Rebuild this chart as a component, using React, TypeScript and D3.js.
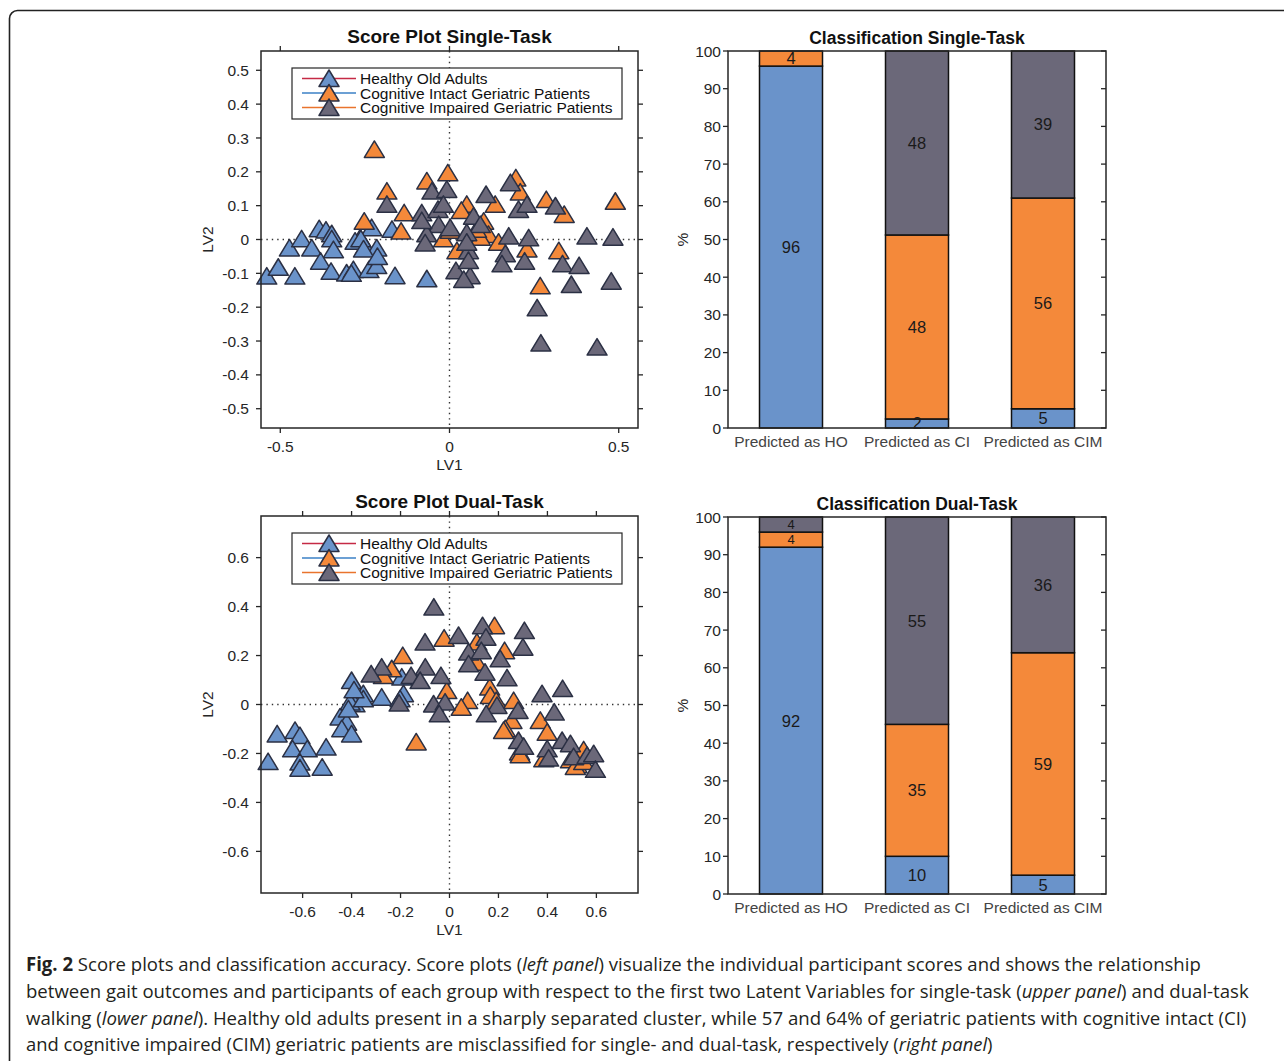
import React from "react";
import * as d3 from "d3";

type Pt = [number, number];
type Box = { x0: number; x1: number; y0: number; y1: number };

// groups, in drawing / legend order
const groupNames = [
  "Healthy Old Adults",
  "Cognitive Intact Geriatric Patients",
  "Cognitive Impaired Geriatric Patients",
];
const groupFill = ["#6a93ca", "#f4893a", "#6b6879"];
const legendLine = ["#c52a45", "#3b80c6", "#e9742d"];

// score plot, single-task (LV1, LV2)
const hoSingle: Pt[] = [
  [-0.54, -0.108], [-0.506, -0.082], [-0.457, -0.108], [-0.473, -0.025], [-0.437, 0.002],
  [-0.407, -0.025], [-0.385, 0.032], [-0.365, 0.028], [-0.348, 0.017], [-0.348, 0.002],
  [-0.343, -0.03], [-0.381, -0.064], [-0.35, -0.094], [-0.304, -0.099], [-0.284, -0.089],
  [-0.238, -0.089], [-0.264, 0.005], [-0.249, -0.02], [-0.23, 0.035], [-0.215, -0.025],
  [-0.215, -0.077], [-0.279, -0.005], [-0.262, 0.002], [-0.254, -0.028], [-0.17, 0.03],
  [-0.161, -0.107], [-0.067, -0.116], [-0.213, -0.05], [-0.29, -0.1],
];
const ciSingle: Pt[] = [
  [-0.222, 0.266], [-0.005, 0.197], [-0.067, 0.173], [0.196, 0.182], [0.209, 0.14],
  [-0.185, 0.143], [0.051, 0.104], [0.035, 0.086], [0.135, 0.104], [-0.134, 0.079],
  [0.286, 0.118], [0.339, 0.074], [0.49, 0.113], [-0.252, 0.054], [-0.143, 0.025],
  [0.101, 0.054], [0.115, 0.015], [-0.018, 0.002], [0.022, -0.033], [0.145, -0.008],
  [0.229, -0.028], [0.323, -0.033], [0.268, -0.137], [0.091, 0.007], [0.002, 0.027],
  [0.08, 0.03],
];
const cimSingle: Pt[] = [
  [0.18, 0.168], [-0.052, 0.143], [-0.008, 0.148], [0.108, 0.133], [-0.185, 0.104],
  [-0.082, 0.079], [-0.034, 0.089], [-0.018, 0.104], [0.204, 0.089], [0.229, 0.104],
  [0.313, 0.099], [0.071, 0.069], [-0.032, 0.044], [0.002, 0.035], [0.091, 0.044],
  [0.051, 0.02], [-0.067, 0.017], [-0.072, -0.01], [0.175, 0.01], [0.234, 0.005],
  [0.406, 0.01], [0.483, 0.007], [0.056, -0.033], [0.165, -0.042], [0.155, -0.072],
  [0.222, -0.064], [0.334, -0.072], [0.383, -0.077], [0.019, -0.092], [0.061, -0.107],
  [0.042, -0.118], [0.36, -0.133], [0.478, -0.123], [0.259, -0.202], [0.27, -0.306],
  [0.436, -0.318], [-0.082, 0.056], [0.051, -0.008], [0.056, -0.062],
];

// score plot, dual-task (LV1, LV2)
const hoDual: Pt[] = [
  [-0.4, 0.098], [-0.379, 0.037], [-0.352, 0.044], [-0.386, 0.003], [-0.406, 0.01],
  [-0.277, 0.03], [-0.195, 0.112], [-0.188, 0.044], [-0.447, -0.051], [-0.42, -0.072],
  [-0.44, -0.099], [-0.4, -0.12], [-0.704, -0.12], [-0.631, -0.106], [-0.611, -0.127],
  [-0.641, -0.181], [-0.581, -0.181], [-0.504, -0.174], [-0.741, -0.233], [-0.611, -0.235],
  [-0.611, -0.26], [-0.52, -0.256], [-0.413, -0.018], [-0.352, 0.023], [-0.202, 0.023],
  [-0.39, 0.06],
];
const ciDual: Pt[] = [
  [0.184, 0.322], [-0.022, 0.271], [0.112, 0.255], [0.225, 0.22], [-0.191, 0.2],
  [-0.236, 0.146], [-0.27, 0.118], [0.112, 0.173], [-0.011, 0.057], [0.164, 0.071],
  [0.167, 0.037], [0.074, 0.016], [0.048, -0.011], [0.191, 0.016], [0.262, 0.016],
  [0.255, -0.065], [0.228, -0.099], [0.371, -0.065], [0.399, -0.113], [-0.136, -0.153],
  [0.286, -0.194], [0.385, -0.222], [0.494, -0.226], [0.521, -0.246], [0.548, -0.185],
  [0.289, -0.205], [0.514, -0.253], [0.548, -0.233], [0.221, -0.106],
];
const cimDual: Pt[] = [
  [-0.064, 0.398], [0.135, 0.322], [0.306, 0.302], [0.037, 0.282], [0.149, 0.275],
  [-0.1, 0.255], [0.3, 0.234], [0.078, 0.214], [0.13, 0.22], [0.207, 0.187],
  [0.078, 0.166], [0.145, 0.132], [0.235, 0.109], [-0.099, 0.153], [-0.277, 0.153],
  [-0.32, 0.125], [-0.157, 0.118], [-0.035, 0.118], [-0.12, 0.098], [0.378, 0.044],
  [0.462, 0.065], [-0.206, 0.006], [-0.065, 0.002], [-0.018, 0.01], [-0.042, -0.038],
  [0.194, -0.004], [0.15, -0.038], [0.28, -0.024], [0.428, -0.031], [0.282, -0.147],
  [0.303, -0.171], [0.399, -0.181], [0.46, -0.147], [0.494, -0.16], [0.507, -0.213],
  [0.562, -0.208], [0.589, -0.201], [0.596, -0.265], [0.405, -0.219],
];

const singleXTicks = [-0.5, 0, 0.5];
const singleYTicks = [-0.5, -0.4, -0.3, -0.2, -0.1, 0, 0.1, 0.2, 0.3, 0.4, 0.5];
const dualXTicks = [-0.6, -0.4, -0.2, 0, 0.2, 0.4, 0.6];
const dualYTicks = [-0.6, -0.4, -0.2, 0, 0.2, 0.4, 0.6];

// classification (%), stacked HO / CI / CIM per predicted class
const barCategories = ["Predicted as HO", "Predicted as CI", "Predicted as CIM"];
const singleHO = [96, 2.4, 5.1];
const singleCI = [4, 48.8, 55.9];
const singleCIM = [0, 48.8, 39];
const singleHOText = [96, 2, 5];
const singleCIText = [4, 48, 56];
const singleCIMText = [0, 48, 39];
const dualHO = [92, 10, 5];
const dualCI = [4, 35, 59];
const dualCIM = [4, 55, 36];
const pctTicks = [0, 10, 20, 30, 40, 50, 60, 70, 80, 90, 100];

const FONT = "'Liberation Sans', Arial, Helvetica, sans-serif";
const AXIS = "#262626";
const TRI = "M0,-8.5L10,8L-10,8Z";
const EDGE = "#2b3044";

function ScorePlot(props: {
  title: string;
  box: Box;
  lim: number;
  xTicks: number[];
  yTicks: number[];
  groups: Pt[][];
}) {
  const { title, box, lim, xTicks, yTicks, groups } = props;
  const x = d3.scaleLinear().domain([-lim, lim]).range([box.x0, box.x1]);
  const y = d3.scaleLinear().domain([-lim, lim]).range([box.y1, box.y0]);
  const lx = 292;
  const ly = box.y0 + 17;
  const rows = [10.5, 25, 39.5];

  return (
    <g fontFamily={FONT}>
      <text x={(box.x0 + box.x1) / 2} y={box.y0 - 8} textAnchor="middle" fontWeight="bold" fontSize={19} fill="#111">
        {title}
      </text>
      <line x1={x(0)} x2={x(0)} y1={box.y0} y2={box.y1} stroke="#333" strokeWidth={1.4} strokeDasharray="1.4 4" />
      <line x1={box.x0} x2={box.x1} y1={y(0)} y2={y(0)} stroke="#333" strokeWidth={1.4} strokeDasharray="1.4 4" />

      {groups.map((pts, gi) =>
        pts.map((p, i) => (
          <path key={gi + "-" + i} d={TRI} transform={`translate(${x(p[0])},${y(p[1])})`}
            fill={groupFill[gi]} stroke={EDGE} strokeWidth={1.5} strokeLinejoin="round" />
        ))
      )}

      <rect x={box.x0} y={box.y0} width={box.x1 - box.x0} height={box.y1 - box.y0} fill="none" stroke={AXIS} strokeWidth={1.5} />
      {xTicks.map((t) => (
        <g key={"x" + t}>
          <line x1={x(t)} x2={x(t)} y1={box.y1} y2={box.y1 + 5} stroke={AXIS} strokeWidth={1.3} />
          <line x1={x(t)} x2={x(t)} y1={box.y0} y2={box.y0 - 5} stroke={AXIS} strokeWidth={1.3} />
          <text x={x(t)} y={box.y1 + 24} textAnchor="middle" fontSize={15.5} fill={AXIS}>{String(t)}</text>
        </g>
      ))}
      {yTicks.map((t) => (
        <g key={"y" + t}>
          <line x1={box.x0 - 5} x2={box.x0} y1={y(t)} y2={y(t)} stroke={AXIS} strokeWidth={1.3} />
          <line x1={box.x1} x2={box.x1 + 5} y1={y(t)} y2={y(t)} stroke={AXIS} strokeWidth={1.3} />
          <text x={box.x0 - 12} y={y(t)} dy="0.36em" textAnchor="end" fontSize={15.5} fill={AXIS}>{String(t)}</text>
        </g>
      ))}
      <text x={(box.x0 + box.x1) / 2} y={box.y1 + 42} textAnchor="middle" fontSize={15.5} fill={AXIS}>LV1</text>
      <text transform={`translate(213,${(box.y0 + box.y1) / 2}) rotate(-90)`} textAnchor="middle" fontSize={15.5} fill={AXIS}>LV2</text>

      <rect x={lx} y={ly} width={330} height={51} fill="#fff" stroke={AXIS} strokeWidth={1.2} />
      {groupNames.map((name, i) => (
        <g key={name}>
          <line x1={lx + 10} x2={lx + 64} y1={ly + rows[i]} y2={ly + rows[i]} stroke={legendLine[i]} strokeWidth={1.6} />
          <path d={TRI} transform={`translate(${lx + 37},${ly + rows[i]})`} fill={groupFill[i]} stroke={EDGE} strokeWidth={1.5} strokeLinejoin="round" />
          <text x={lx + 68} y={ly + rows[i]} dy="0.36em" fontSize={15.5} fill="#111">{name}</text>
        </g>
      ))}
    </g>
  );
}

function BarPanel(props: {
  title: string;
  box: Box;
  ho: number[];
  ci: number[];
  cim: number[];
  texts: number[][];
}) {
  const { title, box, ho, ci, cim, texts } = props;
  const x = d3.scaleBand<string>().domain(barCategories).range([box.x0, box.x1]).paddingInner(0.5).paddingOuter(0.25);
  const y = d3.scaleLinear().domain([0, 100]).range([box.y1, box.y0]);
  const rows = barCategories.map((c, i) => ({ cat: c, ho: ho[i], ci: ci[i], cim: cim[i] }));
  const series = d3.stack<any>().keys(["ho", "ci", "cim"])(rows);

  // label centres per bar, so crowded neighbours can use a smaller font
  const mids = barCategories.map((_, i) =>
    series.filter((s) => s[i][1] - s[i][0] > 0).map((s) => y((s[i][0] + s[i][1]) / 2))
  );
  const crowded = (i: number, cy: number) => mids[i].some((m) => m !== cy && Math.abs(m - cy) < 18);

  return (
    <g fontFamily={FONT}>
      <text x={(box.x0 + box.x1) / 2} y={box.y0 - 7} textAnchor="middle" fontWeight="bold" fontSize={17.5} fill="#111">
        {title}
      </text>
      {series.map((s, si) =>
        s.map((d, i) =>
          d[1] - d[0] > 0 ? (
            <rect key={si + "-" + i} x={x(barCategories[i])} width={x.bandwidth()} y={y(d[1])} height={y(d[0]) - y(d[1])}
              fill={groupFill[si]} stroke="#111" strokeWidth={1.5} />
          ) : null
        )
      )}
      {series.map((s, si) =>
        s.map((d, i) => {
          if (d[1] - d[0] <= 0) return null;
          const cy = y((d[0] + d[1]) / 2);
          return (
            <text key={"t" + si + "-" + i} x={(x(barCategories[i]) as number) + x.bandwidth() / 2} y={cy}
              dy="0.36em" textAnchor="middle" fontSize={crowded(i, cy) ? 13 : 16.5} fill="#1a1a1a">
              {texts[si][i]}
            </text>
          );
        })
      )}
      <rect x={box.x0} y={box.y0} width={box.x1 - box.x0} height={box.y1 - box.y0} fill="none" stroke={AXIS} strokeWidth={1.5} />
      {pctTicks.map((t) => (
        <g key={t}>
          <line x1={box.x0 - 5} x2={box.x0} y1={y(t)} y2={y(t)} stroke={AXIS} strokeWidth={1.3} />
          <line x1={box.x1 - 5} x2={box.x1} y1={y(t)} y2={y(t)} stroke={AXIS} strokeWidth={1.3} />
          <text x={box.x0 - 7} y={y(t)} dy="0.36em" textAnchor="end" fontSize={15.5} fill={AXIS}>{t}</text>
        </g>
      ))}
      {barCategories.map((c) => (
        <text key={c} x={(x(c) as number) + x.bandwidth() / 2} y={box.y1 + 19} textAnchor="middle" fontSize={15.5} fill="#444">{c}</text>
      ))}
      <text transform={`translate(688,${(box.y0 + box.y1) / 2}) rotate(-90)`} textAnchor="middle" fontSize={15.5} fill={AXIS}>%</text>
    </g>
  );
}

// caption line squeezed horizontally to the width it has in the figure
function CaptionLine(props: { y: number; width: number; children: React.ReactNode }) {
  const ref = React.useRef<SVGTextElement>(null);
  const [k, setK] = React.useState(1);
  React.useLayoutEffect(() => {
    const measure = () => {
      if (!ref.current) return;
      const w = ref.current.getComputedTextLength();
      if (w > 0) setK(props.width / w);
    };
    measure();
    if ((document as any).fonts) (document as any).fonts.ready.then(measure);
  }, [props.width]);
  return (
    <text ref={ref} transform={`translate(26,${props.y}) scale(${k},1)`}>
      {props.children}
    </text>
  );
}

const CAP = "'Open Sans', 'Noto Sans', sans-serif";

export default function App() {
  return (
    <div style={{ position: "absolute", left: 0, top: 0 }}>
      <svg width={1284} height={1061} style={{ display: "block", background: "#fff" }}>
        <rect x={9.5} y={10.5} width={1300} height={1100} rx={8} fill="none" stroke="#222" strokeWidth={1.6} />

        <ScorePlot title="Score Plot Single-Task" box={{ x0: 261, x1: 638, y0: 51, y1: 428 }} lim={0.557}
          xTicks={singleXTicks} yTicks={singleYTicks} groups={[hoSingle, ciSingle, cimSingle]} />
        <ScorePlot title="Score Plot Dual-Task" box={{ x0: 261, x1: 638, y0: 516, y1: 893 }} lim={0.77}
          xTicks={dualXTicks} yTicks={dualYTicks} groups={[hoDual, ciDual, cimDual]} />

        <BarPanel title="Classification Single-Task" box={{ x0: 728, x1: 1106, y0: 51, y1: 428 }}
          ho={singleHO} ci={singleCI} cim={singleCIM} texts={[singleHOText, singleCIText, singleCIMText]} />
        <BarPanel title="Classification Dual-Task" box={{ x0: 728, x1: 1106, y0: 517, y1: 894 }}
          ho={dualHO} ci={dualCI} cim={dualCIM} texts={[dualHO, dualCI, dualCIM]} />

        <g fontFamily={CAP} fontSize={19} fill="#231f20">
          <CaptionLine y={971} width={1175}>
            <tspan fontWeight="bold">Fig. 2</tspan> Score plots and classification accuracy. Score plots (<tspan fontStyle="italic">left panel</tspan>) visualize the individual participant scores and shows the relationship
          </CaptionLine>
          <CaptionLine y={998} width={1223}>
            between gait outcomes and participants of each group with respect to the first two Latent Variables for single-task (<tspan fontStyle="italic">upper panel</tspan>) and dual-task
          </CaptionLine>
          <CaptionLine y={1025} width={1220}>
            walking (<tspan fontStyle="italic">lower panel</tspan>). Healthy old adults present in a sharply separated cluster, while 57 and 64% of geriatric patients with cognitive intact (CI)
          </CaptionLine>
          <CaptionLine y={1051} width={967}>
            and cognitive impaired (CIM) geriatric patients are misclassified for single- and dual-task, respectively (<tspan fontStyle="italic">right panel</tspan>)
          </CaptionLine>
        </g>
      </svg>
    </div>
  );
}
